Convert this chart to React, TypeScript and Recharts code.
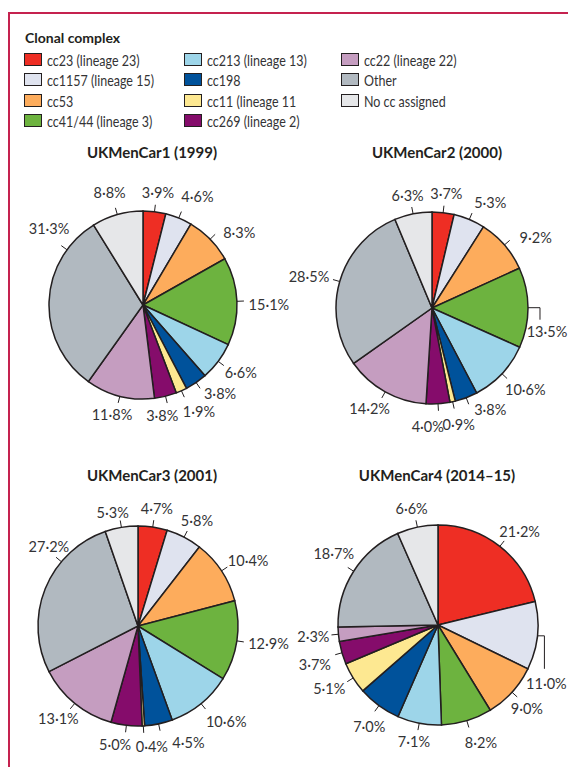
import { PieChart, Pie, Cell } from "recharts";

const CATEGORIES = [
  "cc23 (lineage 23)",
  "cc1157 (lineage 15)",
  "cc53",
  "cc41/44 (lineage 3)",
  "cc213 (lineage 13)",
  "cc198",
  "cc11 (lineage 11",
  "cc269 (lineage 2)",
  "cc22 (lineage 22)",
  "Other",
  "No cc assigned",
];

const COLORS = [
  "#ee2e24",
  "#dfe3ef",
  "#fdac5c",
  "#6db33f",
  "#9dd5e9",
  "#00529b",
  "#fde891",
  "#850c6b",
  "#c59dc0",
  "#b1b9c0",
  "#e6e7e9",
];

const TITLES = ["UKMenCar1 (1999)", "UKMenCar2 (2000)", "UKMenCar3 (2001)", "UKMenCar4 (2014–15)"];

// percentages, clockwise from 12 o'clock, same order as CATEGORIES
const CAR1 = [3.9, 4.6, 8.3, 15.1, 6.6, 3.8, 1.9, 3.8, 11.8, 31.3, 8.8];
const CAR2 = [3.7, 5.3, 9.2, 13.5, 10.6, 3.8, 0.9, 4.0, 14.2, 28.5, 6.3];
const CAR3 = [4.7, 5.8, 10.4, 12.9, 10.6, 4.5, 0.4, 5.0, 13.1, 27.2, 5.3];
const CAR4 = [21.2, 11.0, 9.0, 8.2, 7.1, 7.0, 5.1, 3.7, 2.3, 18.7, 6.6];

const SERIES = [CAR1, CAR2, CAR3, CAR4];

const FONT = "Lato, 'Open Sans', sans-serif";
const INK = "#231f20";
const TEXT = "#333335";

type Tweak = {
  angle?: number;
  dx?: number;
  dy?: number;
  elbow?: { h: number; v: number; tdx: number; tdy: number };
};

// hand placement of a few labels, like in the printed figure
const TWEAKS: Record<number, Tweak>[] = [
  {
    1: { dx: 8, dy: -4 },
    2: { dx: 9, dy: 7 },
    3: { dy: 4 },
    5: { dx: 8, dy: -5 },
    6: { dx: 6, dy: 3 },
    7: { dx: -10, dy: 1 },
    9: { angle: 306, dx: 8, dy: -10 },
    10: { dy: -4 },
  },
  {
    1: { dx: 10 },
    2: { dx: 10, dy: 5 },
    3: { elbow: { h: 12, v: 12, tdx: 7, tdy: 12 } },
    4: { dy: 3 },
    5: { dx: 14, dy: -6 },
    6: { dy: 4 },
    7: { dx: -12, dy: 4 },
  },
  { 4: { dx: 5, dy: 3 }, 5: { dx: 24 }, 6: { dx: 7, dy: 2 }, 7: { dx: -8 }, 8: { dx: 4 }, 9: { angle: 310, dx: 12, dy: -3 }, 10: { dx: -4, dy: 4 } },
  {
    1: { elbow: { h: 7, v: 33, tdx: 2, tdy: 15 } },
    2: { dx: -6, dy: 3 },
    3: { dx: 6, dy: 4 },
    5: { dx: 7, dy: 5 },
    7: { dy: 6 },
    8: { dx: 3 },
    9: { dx: 7, dy: -8 },
  },
];

// box placement of each panel inside the frame
const PANELS = [
  { left: 0, top: 140, cx: 135, cy: 157, r: 94, titleX: 144, titleTop: 135 },
  { left: 280, top: 140, cx: 144, cy: 160, r: 96, titleX: 429, titleTop: 135 },
  { left: 0, top: 460, cx: 130, cy: 158, r: 100, titleX: 144, titleTop: 458 },
  { left: 280, top: 460, cx: 150, cy: 157, r: 100, titleX: 429, titleTop: 458 },
];

const fmt = (v: number) => v.toFixed(1).replace(".", "·") + "%";

const makeLabel = (tweaks: Record<number, Tweak>) => (p: any) => {
  const { cx, cy, midAngle, outerRadius: r, index, value } = p;
  const t = tweaks[index] || {};
  const deg = t.angle ?? 90 - midAngle;
  const a = (deg * Math.PI) / 180;
  const s = Math.sin(a);
  const c = Math.cos(a);
  const text = fmt(value);
  const textStyle = { fontFamily: FONT, fontSize: 14.5, fill: TEXT };
  if (t.elbow) {
    const e = t.elbow;
    const x0 = cx + r * s;
    const y0 = cy - r * c;
    const x1 = x0 + e.h;
    const y1 = y0 + e.v;
    return (
      <g key={`lab-${index}`}>
        <polyline points={`${x0},${y0} ${x1},${y0} ${x1},${y1}`} fill="none" stroke={INK} strokeWidth={1} />
        <text x={x1 + e.tdx} y={y1 + e.tdy} textAnchor="middle" dominantBaseline="central" style={textStyle}>
          {text}
        </text>
      </g>
    );
  }
  const w = text.length * 7.6;
  const tx = cx + (r + 13) * s + (s * w) / 2 + (t.dx || 0);
  const ty = cy - (r + 19) * c + (t.dy || 0);
  return (
    <g key={`lab-${index}`}>
      <line
        x1={cx + r * s}
        y1={cy - r * c}
        x2={cx + (r + 7) * s}
        y2={cy - (r + 7) * c}
        stroke={INK}
        strokeWidth={1}
      />
      <text x={tx} y={ty} textAnchor="middle" dominantBaseline="central" style={textStyle}>
        {text}
      </text>
    </g>
  );
};

function Legend() {
  return (
    <>
      <div
        style={{
          position: "absolute",
          left: 17,
          top: 21,
          fontFamily: FONT,
          fontWeight: 700,
          fontSize: 14,
          color: INK,
          lineHeight: "18px",
        }}
      >
        Clonal complex
      </div>
      {CATEGORIES.map((name, i) => {
        const col = Math.floor(i / 4);
        const row = i % 4;
        return (
          <div
            key={name}
            style={{
              position: "absolute",
              left: [16, 176, 333][col],
              top: 42 + row * 20.5,
              height: 18,
              display: "flex",
              alignItems: "center",
              fontFamily: FONT,
              fontSize: 16,
              color: TEXT,
              whiteSpace: "nowrap",
            }}
          >
            <span
              style={{
                display: "inline-block",
                width: 16,
                height: 11,
                background: COLORS[i],
                border: `1px solid ${INK}`,
                marginRight: 5,
              }}
            />
            <span style={{ display: "inline-block", transform: "scaleX(0.78)", transformOrigin: "left center" }}>
              {name}
            </span>
          </div>
        );
      })}
    </>
  );
}

export default function App() {
  return (
    <div style={{ position: "relative", width: 568, height: 759, overflow: "hidden" }}>
      <style>{`body{overflow:hidden}`}</style>
      <div
        style={{
          position: "absolute",
          left: 0,
          top: 4,
          width: 568,
          height: 760,
          borderTop: "2px solid #c5224f",
          borderLeft: "2px solid #c5224f",
        }}
      />
      <Legend />
      {PANELS.map((pn, k) => {
        const data = SERIES[k].map((value, i) => ({ name: CATEGORIES[i], value }));
        return (
          <div key={TITLES[k]}>
            <div
              style={{
                position: "absolute",
                left: pn.titleX - 110,
                top: pn.titleTop,
                width: 220,
                textAlign: "center",
                fontFamily: FONT,
                fontWeight: 700,
                fontSize: 15,
                color: INK,
                lineHeight: "18px",
              }}
            >
              {TITLES[k]}
            </div>
            <div style={{ position: "absolute", left: pn.left, top: pn.top }}>
              <PieChart width={288} height={300} margin={{ top: 0, right: 0, bottom: 0, left: 0 }}>
                <Pie
                  data={data}
                  dataKey="value"
                  cx={pn.cx}
                  cy={pn.cy}
                  outerRadius={pn.r}
                  startAngle={90}
                  endAngle={-270}
                  stroke={INK}
                  strokeWidth={1.5}
                  labelLine={false}
                  label={makeLabel(TWEAKS[k])}
                  isAnimationActive={false}
                >
                  {data.map((d, i) => (
                    <Cell key={d.name} fill={COLORS[i]} />
                  ))}
                </Pie>
              </PieChart>
            </div>
          </div>
        );
      })}
    </div>
  );
}
